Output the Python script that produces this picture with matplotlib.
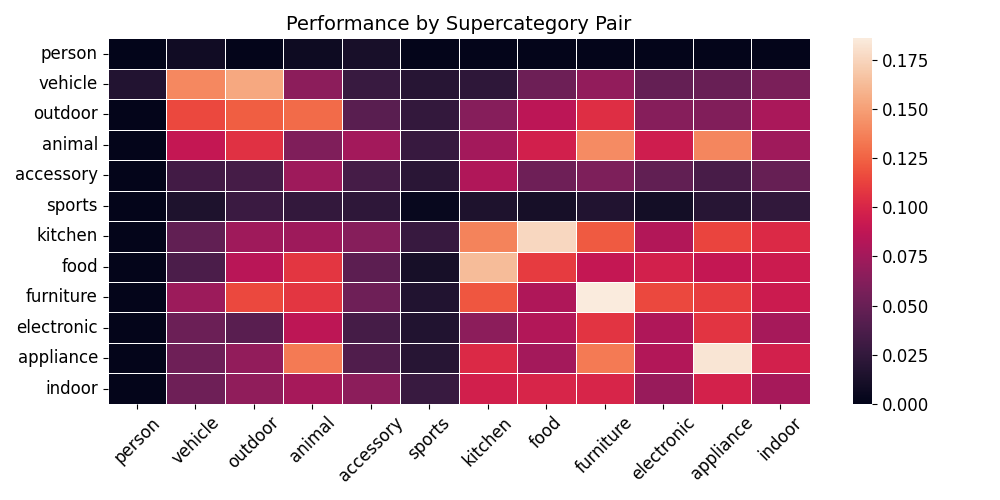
import numpy as np
import matplotlib
matplotlib.use("Agg")
import matplotlib.pyplot as plt
import seaborn as sns

categories = ["person", "vehicle", "outdoor", "animal", "accessory", "sports",
              "kitchen", "food", "furniture", "electronic", "appliance", "indoor"]

row_person     = [0.000, 0.008, 0.001, 0.007, 0.012, 0.001, 0.001, 0.001, 0.001, 0.001, 0.001, 0.001]
row_vehicle    = [0.017, 0.140, 0.154, 0.066, 0.028, 0.019, 0.023, 0.052, 0.068, 0.048, 0.050, 0.058]
row_outdoor    = [0.001, 0.115, 0.123, 0.128, 0.043, 0.025, 0.063, 0.086, 0.104, 0.063, 0.061, 0.078]
row_animal     = [0.001, 0.090, 0.106, 0.060, 0.075, 0.027, 0.075, 0.096, 0.141, 0.095, 0.139, 0.074]
row_accessory  = [0.001, 0.032, 0.034, 0.073, 0.034, 0.021, 0.081, 0.053, 0.059, 0.047, 0.035, 0.049]
row_sports     = [0.001, 0.015, 0.029, 0.025, 0.023, 0.004, 0.015, 0.011, 0.016, 0.010, 0.019, 0.024]
row_kitchen    = [0.001, 0.047, 0.074, 0.073, 0.063, 0.027, 0.138, 0.176, 0.122, 0.082, 0.114, 0.102]
row_food       = [0.001, 0.037, 0.085, 0.108, 0.045, 0.011, 0.163, 0.110, 0.090, 0.097, 0.090, 0.093]
row_furniture  = [0.001, 0.072, 0.115, 0.108, 0.053, 0.016, 0.120, 0.080, 0.186, 0.115, 0.111, 0.093]
row_electronic = [0.001, 0.051, 0.043, 0.087, 0.034, 0.016, 0.066, 0.082, 0.107, 0.080, 0.107, 0.077]
row_appliance  = [0.001, 0.053, 0.068, 0.134, 0.039, 0.019, 0.102, 0.076, 0.134, 0.082, 0.183, 0.097]
row_indoor     = [0.001, 0.053, 0.067, 0.077, 0.066, 0.028, 0.096, 0.100, 0.100, 0.071, 0.098, 0.077]

data = np.array([row_person, row_vehicle, row_outdoor, row_animal, row_accessory, row_sports,
                 row_kitchen, row_food, row_furniture, row_electronic, row_appliance, row_indoor])

fig, ax = plt.subplots(figsize=(10, 5), dpi=100)
hm = sns.heatmap(data, ax=ax, cmap="rocket", linewidths=0.5, linecolor="white",
                 xticklabels=categories, yticklabels=categories)
ax.set_title("Performance by Supercategory Pair", fontsize=14)
ax.tick_params(axis="x", labelsize=12, rotation=45)
ax.tick_params(axis="y", labelsize=12, rotation=0)
cbar = hm.collections[0].colorbar
cbar.ax.tick_params(labelsize=12)
plt.tight_layout()
fig.savefig("out.png", dpi=100)
